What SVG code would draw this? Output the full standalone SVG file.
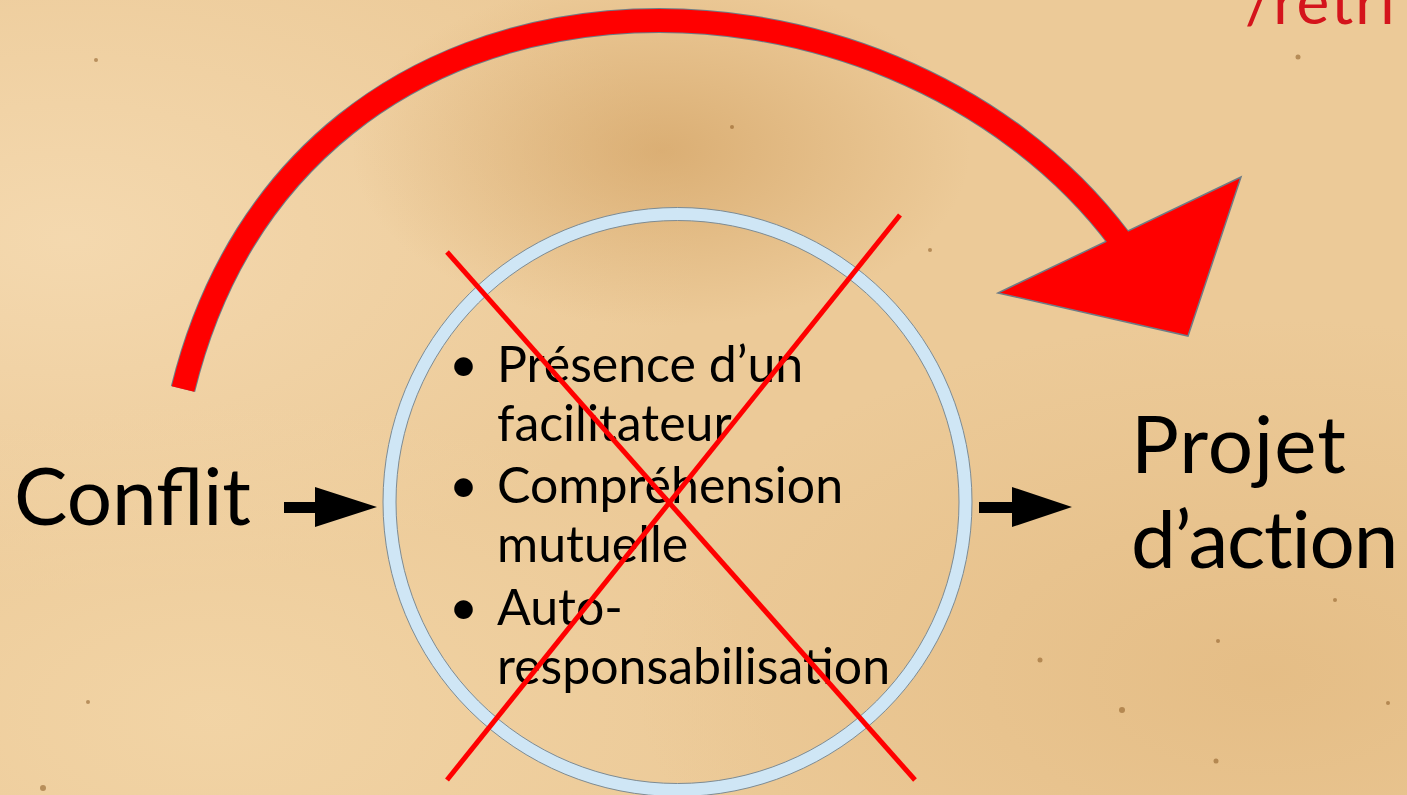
<svg xmlns="http://www.w3.org/2000/svg" width="1407" height="795" viewBox="0 0 1407 795">
<defs>
<radialGradient id="bg1" cx="0.47" cy="0.19" r="0.22">
<stop offset="0" stop-color="#cf9c5c" stop-opacity="0.6"/>
<stop offset="1" stop-color="#cf9c5c" stop-opacity="0"/>
</radialGradient>
<radialGradient id="bg2" cx="0.05" cy="0.3" r="0.45">
<stop offset="0" stop-color="#f6dcb4" stop-opacity="0.8"/>
<stop offset="1" stop-color="#f6dcb4" stop-opacity="0"/>
</radialGradient>
<radialGradient id="bg3" cx="0.9" cy="0.85" r="0.45">
<stop offset="0" stop-color="#dcae70" stop-opacity="0.45"/>
<stop offset="1" stop-color="#dcae70" stop-opacity="0"/>
</radialGradient>
<radialGradient id="bg4" cx="0.15" cy="0.9" r="0.4">
<stop offset="0" stop-color="#f3d6a8" stop-opacity="0.8"/>
<stop offset="1" stop-color="#f3d6a8" stop-opacity="0"/>
</radialGradient>
<style>
.t{font-family:Lato,"Liberation Sans",sans-serif;fill:#000}
.big{font-size:80px}
.li{font-size:50px}
.blk{fill:#000}
.xl{stroke:#ff0000;stroke-width:5;stroke-linecap:butt}
.spk{fill:#8a5a22;opacity:0.55}
</style>
</defs>
<g id="background">
<rect width="1407" height="795" fill="#ecca98"/>
<rect width="1407" height="795" fill="url(#bg2)"/>
<rect width="1407" height="795" fill="url(#bg4)"/>
<rect width="1407" height="795" fill="url(#bg3)"/>
<rect width="1407" height="795" fill="url(#bg1)"/>
<circle class="spk" cx="96" cy="60" r="2"/>
<circle class="spk" cx="88" cy="702" r="2"/>
<circle class="spk" cx="43" cy="788" r="3"/>
<circle class="spk" cx="1122" cy="710" r="3"/>
<circle class="spk" cx="1218" cy="641" r="2"/>
<circle class="spk" cx="1216" cy="761" r="2.5"/>
<circle class="spk" cx="1298" cy="57" r="2.5"/>
<circle class="spk" cx="1388" cy="703" r="2"/>
<circle class="spk" cx="732" cy="127" r="2"/>
<circle class="spk" cx="1040" cy="660" r="2.5"/>
<circle class="spk" cx="1335" cy="600" r="2"/>
<circle class="spk" cx="930" cy="250" r="2"/>
</g>
<g id="title-fragment">
<text x="1245" y="24" font-family="Lato,'Liberation Sans',sans-serif" font-size="62" letter-spacing="2" fill="#d4141c">/retri</text>
</g>
<g id="circle-node">
<circle cx="677.5" cy="502" r="288" fill="none" stroke="#cfe6f5" stroke-width="13"/>
<circle cx="677.5" cy="502" r="294.5" fill="none" stroke="#7d8b93" stroke-width="1"/>
<circle cx="677.5" cy="502" r="281.5" fill="none" stroke="#7d8b93" stroke-width="1"/>
<text class="t li" x="449" y="382">•</text>
<text class="t li" x="497" y="382">Présence d’un</text>
<text class="t li" x="497" y="441">facilitateur</text>
<text class="t li" x="449" y="503">•</text>
<text class="t li" x="497" y="503">Compréhension</text>
<text class="t li" x="497" y="562">mutuelle</text>
<text class="t li" x="449" y="625">•</text>
<text class="t li" x="497" y="625">Auto-</text>
<text class="t li" x="497" y="684">responsabilisation</text>
</g>
<g id="cross">
<line class="xl" x1="447" y1="252" x2="915" y2="780"/>
<line class="xl" x1="900" y1="215" x2="447" y2="780"/>
</g>
<g id="conflit">
<text class="t big" x="14" y="525">Conflit</text>
</g>
<g id="projet">
<text class="t big" x="1131" y="473" letter-spacing="1">Projet</text>
<text class="t big" x="1131" y="568" letter-spacing="-1.2">d’action</text>
</g>
<g id="connectors">
<path class="blk" d="M284,502 L315,502 L315,487 L377,507 L315,527 L315,513 L284,513 Z"/>
<path class="blk" d="M979,502 L1012,502 L1012,487 L1072,507 L1012,527 L1012,513 L979,513 Z"/>
<path d="M183,389 C299,-81 889,-68 1120,240" fill="none" stroke="#6e7c86" stroke-width="25"/>
<polygon points="998,293 1241,177 1188,336" fill="#ff0000" stroke="#6e7c86" stroke-width="1.5" stroke-linejoin="miter"/>
<path d="M183,389 C299,-81 889,-68 1120,240" fill="none" stroke="#ff0000" stroke-width="23"/>
</g>
</svg>
